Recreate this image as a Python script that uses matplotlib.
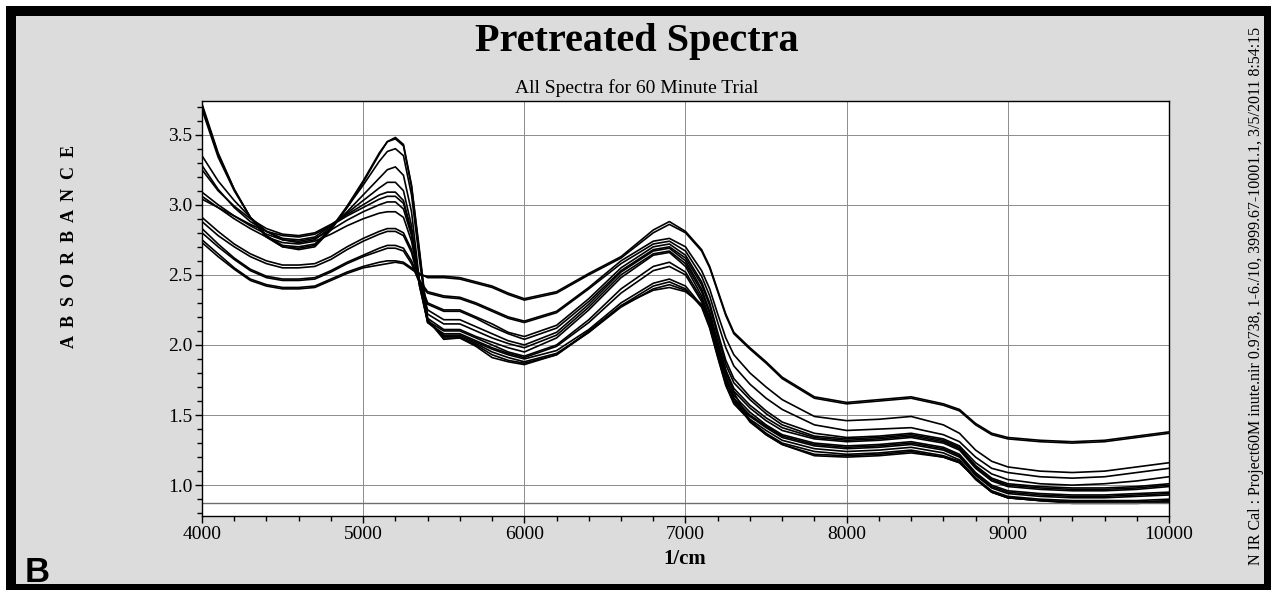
import numpy as np
import matplotlib.pyplot as plt
from matplotlib.patches import Rectangle
from matplotlib.ticker import MultipleLocator, FormatStrFormatter

W, H = 1275, 591

wavenumber = [
    4000, 4100, 4200, 4300, 4400, 4500, 4600, 4700, 4800, 4900,
    5000, 5100, 5150, 5200, 5250, 5300, 5350, 5400, 5500, 5600,
    5700, 5800, 5900, 6000, 6200, 6400, 6600, 6800, 6900, 7000,
    7100, 7150, 7200, 7250, 7300, 7400, 7500, 7600, 7800, 8000,
    8200, 8400, 8600, 8700, 8800, 8900, 9000, 9200, 9400, 9600,
    9800, 10000]

spec_01 = [2.73, 2.63, 2.54, 2.46, 2.42, 2.40, 2.40, 2.41, 2.46, 2.51,
           2.55, 2.57, 2.58, 2.59, 2.58, 2.54, 2.50, 2.49, 2.49, 2.48,
           2.45, 2.42, 2.37, 2.33, 2.38, 2.51, 2.63, 2.82, 2.88, 2.81,
           2.68, 2.56, 2.39, 2.22, 2.09, 1.98, 1.88, 1.77, 1.63, 1.59,
           1.61, 1.63, 1.58, 1.54, 1.44, 1.37, 1.34, 1.32, 1.31, 1.32,
           1.35, 1.38]
spec_02 = [2.75, 2.65, 2.55, 2.47, 2.43, 2.41, 2.41, 2.42, 2.47, 2.52,
           2.56, 2.59, 2.60, 2.60, 2.59, 2.55, 2.51, 2.48, 2.48, 2.47,
           2.44, 2.41, 2.36, 2.32, 2.37, 2.50, 2.62, 2.80, 2.86, 2.80,
           2.67, 2.55, 2.38, 2.21, 2.08, 1.97, 1.87, 1.76, 1.62, 1.58,
           1.60, 1.62, 1.57, 1.53, 1.43, 1.36, 1.33, 1.31, 1.30, 1.31,
           1.34, 1.37]
spec_03 = [2.83, 2.72, 2.62, 2.54, 2.49, 2.47, 2.47, 2.48, 2.53, 2.59,
           2.64, 2.69, 2.71, 2.71, 2.69, 2.60, 2.46, 2.38, 2.35, 2.34,
           2.30, 2.25, 2.20, 2.17, 2.24, 2.41, 2.60, 2.74, 2.76, 2.70,
           2.53, 2.40, 2.22, 2.05, 1.93, 1.80, 1.70, 1.61, 1.49, 1.46,
           1.47, 1.49, 1.43, 1.37, 1.25, 1.17, 1.13, 1.10, 1.09, 1.10,
           1.13, 1.16]
spec_04 = [2.80, 2.70, 2.61, 2.53, 2.48, 2.46, 2.46, 2.47, 2.52, 2.58,
           2.63, 2.67, 2.69, 2.69, 2.67, 2.58, 2.44, 2.37, 2.34, 2.33,
           2.29, 2.24, 2.19, 2.16, 2.23, 2.40, 2.58, 2.72, 2.74, 2.67,
           2.49, 2.35, 2.16, 1.98, 1.85, 1.72, 1.62, 1.54, 1.43, 1.39,
           1.40, 1.41, 1.36, 1.31, 1.20, 1.12, 1.09, 1.06, 1.05, 1.06,
           1.09, 1.12]
spec_05 = [2.91, 2.81, 2.72, 2.65, 2.60, 2.57, 2.57, 2.58, 2.63, 2.70,
           2.76, 2.81, 2.83, 2.83, 2.80, 2.68, 2.46, 2.30, 2.25, 2.25,
           2.20, 2.15, 2.09, 2.06, 2.14, 2.33, 2.55, 2.70, 2.72, 2.64,
           2.45, 2.30, 2.09, 1.89, 1.76, 1.63, 1.53, 1.45, 1.37, 1.34,
           1.35, 1.37, 1.33, 1.28, 1.16, 1.08, 1.04, 1.01, 1.00, 1.01,
           1.03, 1.06]
spec_06 = [2.88, 2.78, 2.70, 2.63, 2.58, 2.55, 2.55, 2.56, 2.61, 2.68,
           2.74, 2.79, 2.81, 2.81, 2.78, 2.66, 2.44, 2.29, 2.24, 2.24,
           2.19, 2.13, 2.08, 2.04, 2.12, 2.31, 2.53, 2.68, 2.70, 2.62,
           2.43, 2.28, 2.06, 1.86, 1.73, 1.61, 1.51, 1.43, 1.35, 1.33,
           1.34, 1.36, 1.32, 1.27, 1.14, 1.05, 1.01, 0.99, 0.98, 0.98,
           0.99, 1.01]
spec_07 = [3.06, 2.98, 2.90, 2.83, 2.77, 2.73, 2.72, 2.74, 2.79, 2.85,
           2.90, 2.94, 2.95, 2.95, 2.91, 2.74, 2.45, 2.25, 2.18, 2.18,
           2.13, 2.08, 2.03, 2.00, 2.09, 2.29, 2.52, 2.67, 2.69, 2.60,
           2.40, 2.24, 2.02, 1.82, 1.69, 1.57, 1.48, 1.41, 1.34, 1.32,
           1.33, 1.35, 1.31, 1.26, 1.13, 1.04, 1.00, 0.98, 0.97, 0.97,
           0.98, 1.00]
spec_08 = [3.09, 3.00, 2.92, 2.85, 2.79, 2.75, 2.74, 2.76, 2.82, 2.89,
           2.95, 3.00, 3.02, 3.02, 2.97, 2.78, 2.44, 2.22, 2.15, 2.15,
           2.10, 2.05, 2.01, 1.98, 2.07, 2.27, 2.50, 2.65, 2.67, 2.58,
           2.38, 2.22, 2.00, 1.80, 1.67, 1.55, 1.46, 1.39, 1.33, 1.31,
           1.32, 1.34, 1.30, 1.25, 1.12, 1.03, 0.99, 0.97, 0.96, 0.96,
           0.97, 0.99]
spec_09 = [3.04, 2.98, 2.92, 2.86, 2.81, 2.78, 2.77, 2.79, 2.85, 2.92,
           2.98, 3.04, 3.06, 3.06, 3.01, 2.80, 2.43, 2.19, 2.11, 2.11,
           2.06, 2.02, 1.98, 1.95, 2.05, 2.25, 2.48, 2.64, 2.66, 2.56,
           2.35, 2.19, 1.97, 1.77, 1.64, 1.52, 1.43, 1.36, 1.30, 1.28,
           1.29, 1.31, 1.27, 1.22, 1.09, 1.00, 0.96, 0.94, 0.93, 0.93,
           0.94, 0.95]
spec_10 = [3.25, 3.10, 2.99, 2.90, 2.83, 2.79, 2.78, 2.80, 2.86, 2.93,
           3.00, 3.07, 3.09, 3.09, 3.03, 2.81, 2.42, 2.17, 2.10, 2.10,
           2.05, 2.00, 1.95, 1.92, 2.00, 2.18, 2.40, 2.56, 2.59, 2.52,
           2.33, 2.17, 1.95, 1.75, 1.62, 1.50, 1.42, 1.35, 1.29, 1.27,
           1.28, 1.30, 1.26, 1.21, 1.08, 0.99, 0.95, 0.93, 0.92, 0.92,
           0.93, 0.94]
spec_11 = [3.28, 3.11, 2.98, 2.88, 2.81, 2.76, 2.75, 2.77, 2.85, 2.94,
           3.03, 3.12, 3.16, 3.16, 3.10, 2.85, 2.42, 2.16, 2.08, 2.08,
           2.03, 1.98, 1.94, 1.91, 1.99, 2.16, 2.37, 2.53, 2.56, 2.50,
           2.31, 2.15, 1.93, 1.73, 1.60, 1.49, 1.41, 1.34, 1.28, 1.26,
           1.27, 1.29, 1.25, 1.20, 1.07, 0.98, 0.94, 0.92, 0.91, 0.91,
           0.92, 0.93]
spec_12 = [3.35, 3.17, 3.03, 2.91, 2.81, 2.75, 2.73, 2.75, 2.84, 2.95,
           3.07, 3.19, 3.25, 3.27, 3.21, 2.95, 2.45, 2.16, 2.07, 2.07,
           2.02, 1.97, 1.93, 1.90, 1.96, 2.11, 2.30, 2.44, 2.47, 2.42,
           2.28, 2.13, 1.92, 1.72, 1.59, 1.47, 1.39, 1.32, 1.26, 1.24,
           1.25, 1.27, 1.23, 1.18, 1.05, 0.96, 0.92, 0.90, 0.89, 0.89,
           0.89, 0.90]
spec_13 = [3.68, 3.34, 3.10, 2.91, 2.78, 2.71, 2.70, 2.72, 2.83, 2.98,
           3.14, 3.31, 3.38, 3.40, 3.35, 3.07, 2.60, 2.17, 2.06, 2.06,
           2.01, 1.95, 1.91, 1.88, 1.94, 2.09, 2.28, 2.42, 2.45, 2.40,
           2.27, 2.12, 1.91, 1.71, 1.58, 1.46, 1.37, 1.30, 1.24, 1.22,
           1.23, 1.25, 1.21, 1.17, 1.04, 0.95, 0.91, 0.89, 0.88, 0.88,
           0.88, 0.89]
spec_14 = [3.70, 3.36, 3.11, 2.91, 2.77, 2.70, 2.69, 2.71, 2.83, 2.99,
           3.17, 3.37, 3.45, 3.47, 3.42, 3.13, 2.65, 2.18, 2.05, 2.05,
           2.00, 1.93, 1.89, 1.87, 1.93, 2.09, 2.27, 2.40, 2.43, 2.39,
           2.28, 2.17, 1.98, 1.78, 1.62, 1.45, 1.36, 1.29, 1.22, 1.21,
           1.22, 1.24, 1.20, 1.16, 1.05, 0.95, 0.91, 0.89, 0.88, 0.88,
           0.88, 0.88]
spec_15 = [3.72, 3.37, 3.11, 2.91, 2.77, 2.70, 2.68, 2.70, 2.82, 2.98,
           3.16, 3.36, 3.45, 3.48, 3.43, 3.14, 2.67, 2.18, 2.04, 2.05,
           1.99, 1.91, 1.88, 1.86, 1.93, 2.10, 2.28, 2.39, 2.41, 2.38,
           2.29, 2.20, 2.02, 1.82, 1.66, 1.46, 1.36, 1.29, 1.21, 1.20,
           1.21, 1.23, 1.20, 1.16, 1.05, 0.95, 0.91, 0.89, 0.87, 0.87,
           0.87, 0.88]

spectra = [spec_01, spec_02, spec_03, spec_04, spec_05, spec_06, spec_07,
           spec_08, spec_09, spec_10, spec_11, spec_12, spec_13, spec_14,
           spec_15]

baseline = 0.87
footer = ("N IR Cal : Project60M inute.nir 0.9738, 1-6./10, "
          "3999.67-10001.1, 3/5/2011 8:54:15")

plt.rcParams['font.family'] = 'Liberation Serif'


def px_rect(x0, y0, x1, y1):
    # pixel box measured from top-left -> figure-fraction rectangle args
    return (x0 / W, 1 - y1 / H), (x1 - x0) / W, (y1 - y0) / H


fig = plt.figure(figsize=(W / 100, H / 100), dpi=100, facecolor='white')

# black frame with grey panel inside
xy, w, h = px_rect(6, 6, 1271, 590)
fig.add_artist(Rectangle(xy, w, h, transform=fig.transFigure,
                         facecolor='black', edgecolor='none', zorder=-2))
xy, w, h = px_rect(16, 16, 1264, 584)
fig.add_artist(Rectangle(xy, w, h, transform=fig.transFigure,
                         facecolor='#dcdcdc', edgecolor='none', zorder=-1))

ax = fig.add_axes([202 / W, 1 - 516 / H, (1169 - 202) / W, (516 - 101) / H])
ax.set_facecolor('white')

for s in spectra:
    ax.plot(wavenumber, s, color='black', lw=1.2)
ax.axhline(baseline, color='#6e6e6e', lw=1.0)

ax.set_xlim(4000, 10000)
ax.set_ylim(0.78, 3.74)
ax.xaxis.set_major_locator(MultipleLocator(1000))
ax.xaxis.set_minor_locator(MultipleLocator(200))
ax.yaxis.set_major_locator(MultipleLocator(0.5))
ax.yaxis.set_minor_locator(MultipleLocator(0.1))
ax.yaxis.set_major_formatter(FormatStrFormatter('%.1f'))
ax.grid(True, which='major', color='#8c8c8c', lw=0.7)
ax.set_axisbelow(True)
ax.tick_params(which='major', direction='out', length=5, width=1,
               labelsize=14, pad=2)
ax.tick_params(which='minor', direction='out', length=3.5, width=1)
for sp in ax.spines.values():
    sp.set_color('black')
    sp.set_linewidth(1.0)

fig.text(637 / W, 1 - 42 / H, 'Pretreated Spectra', ha='center',
         va='center', fontsize=29, fontweight='bold')
fig.text(637 / W, 1 - 88 / H, 'All Spectra for 60 Minute Trial',
         ha='center', va='center', fontsize=14)
fig.text(685 / W, 1 - 559 / H, '1/cm', ha='center', va='center',
         fontsize=15, fontweight='bold')
fig.text(70 / W, 1 - 246 / H, 'A  B  S  O  R  B  A  N  C  E', rotation=90,
         ha='center', va='center', fontsize=13, fontweight='bold')
fig.text(25 / W, 1 - 582 / H, 'B', family='Liberation Sans',
         fontweight='bold', fontsize=25, ha='left', va='baseline')
fig.text(1256 / W, 1 - 296 / H, footer, rotation=90, ha='center',
         va='center', fontsize=11.5)

fig.savefig('out.png', dpi=100, facecolor=fig.get_facecolor())
